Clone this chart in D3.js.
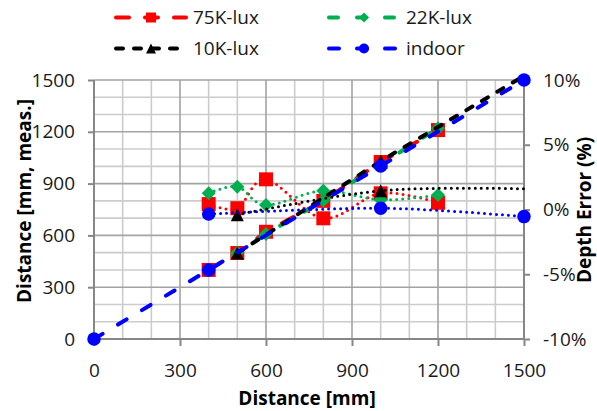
<!DOCTYPE html>
<html lang="en">
<head>
<meta charset="UTF-8">
<title>Measured distance and depth error</title>
<script src="https://d3js.org/d3.v7.min.js"></script>
<style>
  body { margin: 0; background: #fff; }
  text { font-family: "Open Sans", sans-serif; fill: #1a1a1a; }
  .tick text { font-size: 19px; }
  .title { font-size: 19px; font-weight: bold; fill: #000; }
  .legend-label { font-size: 19px; }
  .grid-minor { stroke: #cccccc; stroke-width: 1.6; }
  .grid-major { stroke: #a3a3a3; stroke-width: 1.6; }
  .axis-line { stroke: #878787; stroke-width: 2; }
</style>
</head>
<body>
<div id="chart"></div>
<script>
const width = 597, height = 411;
const margin = { top: 80, right: 73, bottom: 72, left: 94 };
const plotW = width - margin.left - margin.right;
const plotH = height - margin.top - margin.bottom;

// axis ticks
const xTicks = [0, 300, 600, 900, 1200, 1500];
const yTicks = [0, 300, 600, 900, 1200, 1500];
const errTicks = [-10, -5, 0, 5, 10];
const gridValues = d3.range(0, 1501, 100);

// 75K-lux
const lux75X = [400, 500, 600, 800, 1000, 1200];
const lux75Meas = [400, 498, 621, 800, 1025, 1210];
const lux75Err = [0.42, 0.1, 2.33, -0.68, 1.25, 0.52];

// 22K-lux
const lux22X = [400, 500, 600, 800, 1000, 1200];
const lux22Meas = [400, 500, 608, 802, 1012, 1220];
const lux22Err = [1.25, 1.76, 0.35, 1.45, 0.75, 1.12];

// 10K-lux (no marker on the 1500 point)
const lux10X = [500, 1000, 1500];
const lux10Meas = [498, 1030, 1524];
const lux10Err = [-0.4, 1.45, 1.6];
const lux10Marked = [true, true, false];

// indoor
const indoorX = [0, 400, 1000, 1500];
const indoorMeas = [0, 400, 1002, 1500];
const indoorErrX = [400, 1000, 1500];
const indoorErr = [-0.35, 0.1, -0.55];

const legendNames = ["75K-lux", "22K-lux", "10K-lux", "indoor"];

const series = [
  { name: legendNames[0], color: "#ff0000", marker: "square", dash: "13,16",
    meas: lux75X.map((d, i) => ({ x: d, y: lux75Meas[i], m: true })),
    err: lux75X.map((d, i) => ({ x: d, y: lux75Err[i], m: true })) },
  { name: legendNames[1], color: "#00b050", marker: "diamond", dash: "9,19",
    meas: lux22X.map((d, i) => ({ x: d, y: lux22Meas[i], m: true })),
    err: lux22X.map((d, i) => ({ x: d, y: lux22Err[i], m: true })) },
  { name: legendNames[2], color: "#000000", marker: "triangle", dash: "7,11",
    meas: lux10X.map((d, i) => ({ x: d, y: lux10Meas[i], m: lux10Marked[i] })),
    err: lux10X.map((d, i) => ({ x: d, y: lux10Err[i], m: lux10Marked[i] })) },
  { name: legendNames[3], color: "#0000ff", marker: "circle", dash: "10,18",
    meas: indoorX.map((d, i) => ({ x: d, y: indoorMeas[i], m: true })),
    err: indoorErrX.map((d, i) => ({ x: d, y: indoorErr[i], m: true })) }
];

const svg = d3.select("#chart").append("svg")
  .attr("width", width)
  .attr("height", height);

const g = svg.append("g")
  .attr("transform", `translate(${margin.left},${margin.top})`);

const x = d3.scaleLinear().domain([0, 1500]).range([0, plotW]);
const y = d3.scaleLinear().domain([0, 1500]).range([plotH, 0]);
const yErr = d3.scaleLinear().domain([-10, 10]).range([plotH, 0]);

// grid
const grid = g.append("g");
grid.selectAll(".gx").data(gridValues).join("line")
  .attr("class", d => d % 300 === 0 ? "grid-major" : "grid-minor")
  .attr("x1", d => x(d)).attr("x2", d => x(d))
  .attr("y1", 0).attr("y2", plotH);
grid.selectAll(".gy").data(gridValues).join("line")
  .attr("class", d => d % 300 === 0 ? "grid-major" : "grid-minor")
  .attr("y1", d => y(d)).attr("y2", d => y(d))
  .attr("x1", 0).attr("x2", plotW);
// bring major lines forward
grid.selectAll(".grid-major").raise();

// axes
function styleAxis(sel) {
  sel.select(".domain").remove();
  sel.selectAll(".tick line").attr("stroke", "#878787").attr("stroke-width", 2);
  sel.selectAll(".tick text").attr("fill", "#1a1a1a");
}

g.append("g")
  .attr("transform", `translate(0,${plotH})`)
  .call(d3.axisBottom(x).tickValues(xTicks).tickSize(7).tickPadding(18).tickFormat(d3.format("d")))
  .call(styleAxis)
  .attr("font-family", null).attr("font-size", null);

g.append("g")
  .call(d3.axisLeft(y).tickValues(yTicks).tickSize(6).tickPadding(13).tickFormat(d3.format("d")))
  .call(styleAxis)
  .attr("font-family", null).attr("font-size", null);

g.append("g")
  .attr("transform", `translate(${plotW},0)`)
  .call(d3.axisRight(yErr).tickValues(errTicks).tickSize(6).tickPadding(13).tickFormat(d => d + "%"))
  .call(styleAxis)
  .attr("font-family", null).attr("font-size", null);

g.append("line").attr("class", "axis-line").attr("x1", 0).attr("x2", 0).attr("y1", 0).attr("y2", plotH);
g.append("line").attr("class", "axis-line").attr("x1", plotW).attr("x2", plotW).attr("y1", 0).attr("y2", plotH);
g.append("line").attr("class", "axis-line").attr("x1", 0).attr("x2", plotW).attr("y1", plotH).attr("y2", plotH);

// markers
function markerPath(type, s) {
  const h = s / 2;
  if (type === "square") return `M${-h},${-h}H${h}V${h}H${-h}Z`;
  if (type === "diamond") return `M0,${-h}L${h},0L0,${h}L${-h},0Z`;
  if (type === "triangle") return `M0,${-h}L${h},${h}L${-h},${h}Z`;
  return d3.arc()({ innerRadius: 0, outerRadius: h, startAngle: 0, endAngle: 2 * Math.PI });
}
const markerSize = { square: 14, diamond: 14, triangle: 13, circle: 13.5 };

svg.append("defs").append("clipPath").attr("id", "plot-clip")
  .append("rect").attr("x", -4).attr("y", -3).attr("width", plotW + 8).attr("height", plotH + 6);

const smooth = d3.curveCatmullRom.alpha(0);

series.forEach(s => {
  const lines = g.append("g").attr("clip-path", "url(#plot-clip)");

  // measured distance, dashed (left axis)
  lines.append("path")
    .datum(s.meas)
    .attr("fill", "none")
    .attr("stroke", s.color)
    .attr("stroke-width", 4)
    .attr("stroke-linecap", "round")
    .attr("stroke-dasharray", s.dash)
    .attr("d", d3.line().x(d => x(d.x)).y(d => y(d.y)));

  g.selectAll(null).data(s.meas.filter(d => d.m)).join("path")
    .attr("transform", d => `translate(${x(d.x)},${y(d.y)})`)
    .attr("d", markerPath(s.marker, markerSize[s.marker]))
    .attr("fill", s.color);

  // depth error, dotted (right axis)
  lines.append("path")
    .datum(s.err)
    .attr("fill", "none")
    .attr("stroke", s.color)
    .attr("stroke-width", 3)
    .attr("stroke-linecap", "round")
    .attr("stroke-dasharray", "0,6")
    .attr("d", d3.line().curve(smooth).x(d => x(d.x)).y(d => yErr(d.y)));

  g.selectAll(null).data(s.err.filter(d => d.m)).join("path")
    .attr("transform", d => `translate(${x(d.x)},${yErr(d.y)})`)
    .attr("d", markerPath(s.marker, markerSize[s.marker]))
    .attr("fill", s.color);
});

// titles
svg.append("text").attr("class", "title")
  .attr("x", 307).attr("y", 405)
  .attr("text-anchor", "middle")
  .text("Distance [mm]");

svg.append("text").attr("class", "title")
  .attr("transform", "translate(31,201) rotate(-90)")
  .attr("text-anchor", "middle")
  .text("Distance [mm, meas.]");

svg.append("text").attr("class", "title")
  .attr("transform", "translate(591,210) rotate(-90)")
  .attr("text-anchor", "middle")
  .text("Depth Error (%)");

// legend
const legend = svg.append("g");
series.forEach((s, i) => {
  const col = i % 2, row = Math.floor(i / 2);
  const lx = col === 0 ? 116 : 329;
  const ly = row === 0 ? 17.5 : 48.5;
  const item = legend.append("g").attr("transform", `translate(${lx},${ly})`);
  item.append("line")
    .attr("x1", 0).attr("x2", 70).attr("y1", 0).attr("y2", 0)
    .attr("stroke", s.color)
    .attr("stroke-width", 4)
    .attr("stroke-linecap", "round")
    .attr("stroke-dasharray", s.dash);
  item.append("path")
    .attr("transform", "translate(35,0)")
    .attr("d", markerPath(s.marker, 10))
    .attr("fill", s.color);
  item.append("text").attr("class", "legend-label")
    .attr("x", 77).attr("y", 0).attr("dy", "0.35em")
    .text(s.name);
});
</script>
</body>
</html>
